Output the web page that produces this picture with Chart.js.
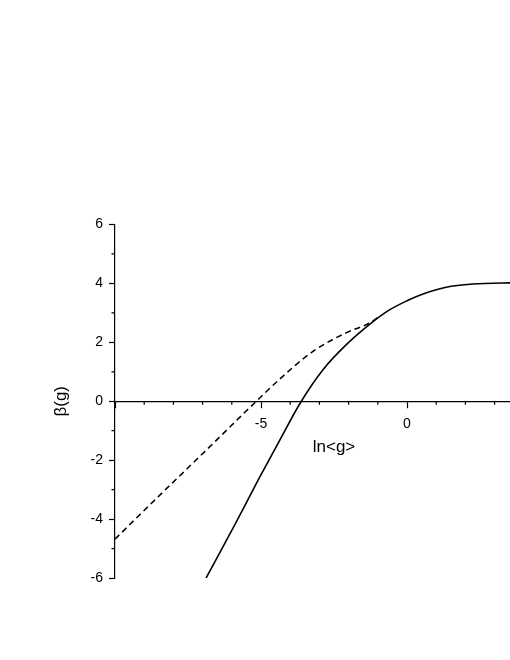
<!DOCTYPE html>
<html>
<head>
<meta charset="utf-8">
<script src="https://cdn.jsdelivr.net/npm/chart.js@4/dist/chart.umd.min.js"></script>
<style>
  html, body { margin: 0; padding: 0; background: #fff; overflow: hidden; }
  /* plot runs past the right edge of the window, as in the original */
  #wrap { width: 561px; height: 660px; }
</style>
</head>
<body>
<div id="wrap"><canvas id="myChart"></canvas></div>
<script>
// exact curve (solid)
const solidX = [-6.88, -5.9, -5.1, -4.4, -3.62, -2.87, -2.07, -1.27, -0.6, 0, 0.55, 1.34, 2.25, 3.5, 5];
const solidY = [-6.0, -4.2, -2.68, -1.4, 0, 1.08, 1.93, 2.62, 3.1, 3.41, 3.64, 3.87, 3.98, 4.02, 4.03];
// approximation (dashed)
const dashX = [-10, -8.5, -7.0, -5.16, -4.35, -3.21, -2.07, -1.27, -0.93];
const dashY = [-4.68, -3.22, -1.78, 0, 0.76, 1.70, 2.33, 2.66, 2.9];

const xMajor = [-5, 0];
const xMinorStep = 1;
const yMinorStep = 1;

function toPoints(xs, ys) {
    return xs.map(function (x, i) { return { x: x, y: ys[i] }; });
}

Chart.defaults.font.family = '"Liberation Sans", Arial, sans-serif';
Chart.defaults.color = '#000';

// minor tick marks, every unit on both axes
const minorTicks = {
    id: 'minorTicks',
    afterDraw(chart) {
        const ctx = chart.ctx;
        const xs = chart.scales.x, ys = chart.scales.y;
        const y0 = ys.getPixelForValue(0);
        const left = xs.left;
        ctx.save();
        ctx.strokeStyle = '#000';
        ctx.lineWidth = 1.2;
        ctx.beginPath();
        for (let v = Math.ceil(xs.min); v <= xs.max; v += xMinorStep) {
            if (v % 5 === 0) continue;
            const px = xs.getPixelForValue(v);
            ctx.moveTo(px, y0);
            ctx.lineTo(px, y0 + 3.5);
        }
        for (let v = ys.min; v <= ys.max; v += yMinorStep) {
            if (v % 2 === 0) continue;
            const py = ys.getPixelForValue(v);
            ctx.moveTo(left, py);
            ctx.lineTo(left - 3.5, py);
        }
        ctx.stroke();
        ctx.restore();
    }
};

const ctx = document.getElementById('myChart').getContext('2d');
new Chart(ctx, {
    type: 'scatter',
    data: {
        datasets: [
            {
                label: 'exact',
                data: toPoints(solidX, solidY),
                showLine: true,
                borderColor: '#000',
                borderWidth: 1.6,
                pointRadius: 0,
                cubicInterpolationMode: 'monotone'
            },
            {
                label: 'approx',
                data: toPoints(dashX, dashY),
                showLine: true,
                borderColor: '#000',
                borderWidth: 1.5,
                borderDash: [6, 4],
                pointRadius: 0,
                cubicInterpolationMode: 'monotone'
            }
        ]
    },
    options: {
        responsive: true,
        maintainAspectRatio: false,
        animation: false,
        layout: { padding: { top: 224.5, bottom: 82, left: 0, right: 0 } },
        plugins: { legend: { display: false }, tooltip: { enabled: false } },
        scales: {
            x: {
                type: 'linear',
                position: { y: 0 },
                min: -10,
                max: 5,
                afterFit: function (scale) { scale.height = 60.2; },
                ticks: {
                    stepSize: 5,
                    includeBounds: false,
                    maxRotation: 0,
                    padding: 8,
                    font: { size: 14 },
                    callback: function (v) { return xMajor.indexOf(v) >= 0 ? v : ''; }
                },
                grid: { display: true, drawOnChartArea: false, drawTicks: true, tickLength: 6, tickWidth: 1.2, tickColor: '#000' },
                border: { display: true, color: '#000', width: 1.2 },
                title: { display: true, text: 'ln<g>', font: { size: 17 }, padding: { top: 4, bottom: 4 } }
            },
            y: {
                type: 'linear',
                position: 'left',
                min: -6,
                max: 6,
                afterFit: function (scale) { scale.width = 115; },
                ticks: {
                    stepSize: 2,
                    padding: 6,
                    font: { size: 14 }
                },
                grid: { display: true, drawOnChartArea: false, drawTicks: true, tickLength: 6, tickWidth: 1.2, tickColor: '#000' },
                border: { display: true, color: '#000', width: 1.2 },
                title: { display: true, text: 'β(g)', font: { size: 17 }, padding: { top: 51, bottom: 0 } }
            }
        }
    },
    plugins: [minorTicks]
});
</script>
</body>
</html>
